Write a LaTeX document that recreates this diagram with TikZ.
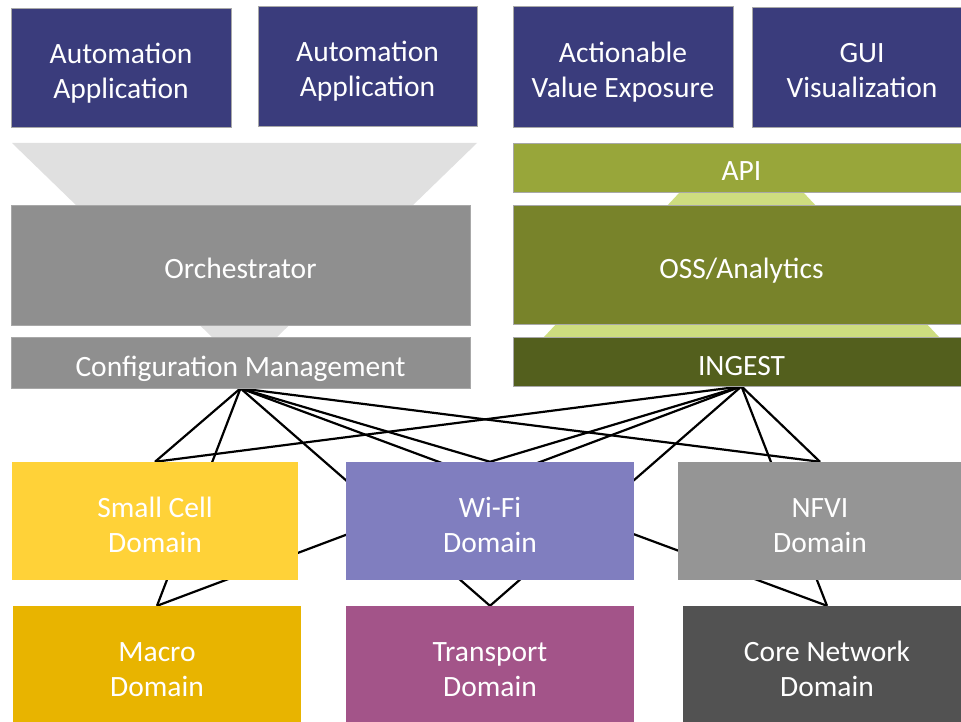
\documentclass[tikz,border=0pt]{standalone}
\usepackage{fontspec}
\setmainfont{Carlito}
\usetikzlibrary{backgrounds}

\definecolor{appblue}{HTML}{3A3C7C}
\definecolor{funnelgray}{HTML}{E0E0E0}
\definecolor{orchgray}{HTML}{8F8F8F}
\definecolor{apigreen}{HTML}{98A63A}
\definecolor{ossgreen}{HTML}{78832A}
\definecolor{ingestgreen}{HTML}{535F1D}
\definecolor{palegreen}{HTML}{CEDD7F}
\definecolor{smallcell}{HTML}{FFD238}
\definecolor{wifi}{HTML}{807EBF}
\definecolor{nfvi}{HTML}{959595}
\definecolor{macro}{HTML}{E8B400}
\definecolor{transport}{HTML}{A35489}
\definecolor{corenet}{HTML}{525252}
\definecolor{boxedge}{HTML}{A8A8A8}

\begin{document}
\begin{tikzpicture}[x=1pt,y=-1pt,
  box/.style={rectangle, inner sep=0pt, text=white, align=center,
    font=\fontsize{29.5}{35}\selectfont,
    % fixed line ascent and descent, as a slide text frame sets them
    execute at begin node={\rule{0pt}{34pt}},
    execute at end node={\rule[-7pt]{0pt}{7pt}}},
  % stacked text has its baseline on the last line: one more line of ascent
  twoline/.style={execute at begin node={\rule{0pt}{69pt}}},
  framed/.style={box, draw=boxedge, line width=0.7pt},
  link/.style={draw=black, line width=2.2pt, line join=round}]
\useasboundingbox (0,0) rectangle (961,722);
\clip (0,0) rectangle (961,722);

% application layer
\node[framed, twoline, fill=appblue, minimum width=220pt, minimum height=119pt] (app1) at (121,67.5) {Automation\\Application};
\node[framed, twoline, fill=appblue, minimum width=219pt, minimum height=120pt] (app2) at (367.5,66) {Automation\\Application};
\node[framed, twoline, fill=appblue, minimum width=220pt, minimum height=121pt] (ave) at (623,66.5) {Actionable\\Value Exposure};
\node[framed, twoline, fill=appblue, minimum width=220pt, minimum height=120pt] (gui) at (862,67) {GUI\\Visualization};

% orchestration column
\node[framed, fill=orchgray, minimum width=459pt, minimum height=120pt] (orch) at (240.5,265) {Orchestrator};
\node[framed, fill=orchgray, minimum width=459pt, minimum height=51pt] (cm) at (240.5,362.5) {Configuration Management};

% analytics column
\node[framed, fill=apigreen, minimum width=457pt, minimum height=49pt] (api) at (741.5,167.5) {API};
\node[framed, fill=ossgreen, minimum width=457pt, minimum height=119pt] (oss) at (741.5,264.5) {OSS/Analytics};
\node[framed, fill=ingestgreen, minimum width=457pt, minimum height=49pt] (ingest) at (741.5,361.5) {INGEST};

% domains
\node[box, twoline, fill=smallcell, minimum width=286pt, minimum height=118pt] (small) at (155,521) {Small Cell\\Domain};
\node[box, twoline, fill=wifi, minimum width=288pt, minimum height=118pt] (wifi) at (490,521) {Wi-Fi\\Domain};
\node[box, twoline, fill=nfvi, minimum width=284pt, minimum height=118pt] (nfvi) at (820,521) {NFVI\\Domain};
\node[box, twoline, fill=macro, minimum width=288pt, minimum height=118pt] (macro) at (157,665) {Macro\\Domain};
\node[box, twoline, fill=transport, minimum width=288pt, minimum height=118pt] (transport) at (490,665) {Transport\\Domain};
\node[box, twoline, fill=corenet, minimum width=288pt, minimum height=118pt] (core) at (827,665) {Core Network\\Domain};

\begin{scope}[on background layer]
  \fill[white] (0,0) rectangle (961,722);
  % funnel behind the orchestrator
  \fill[funnelgray] (12,143) -- (477,143) -- (277,337) -- (212,337) -- cycle;
  % pyramid behind the analytics stack
  \fill[palegreen] (680,192) -- (803,192) -- (939,337) -- (544,337) -- cycle;
  % every domain is reached from both management points
  \foreach \d in {small,wifi,nfvi,macro,transport,core} {
    \draw[link] (cm.south) -- (\d.north);
    \draw[link] (ingest.south) -- (\d.north);
  }
\end{scope}
\end{tikzpicture}
\end{document}
